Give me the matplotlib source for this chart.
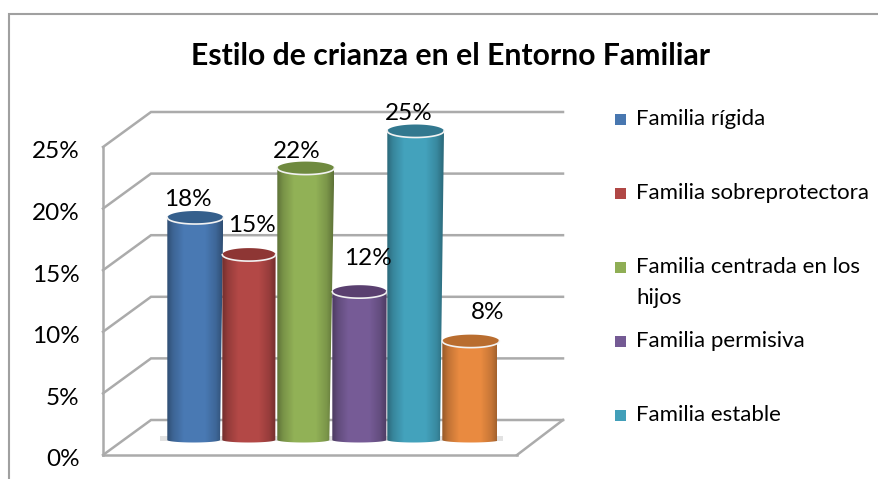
import numpy as np
import matplotlib
matplotlib.use("Agg")
import matplotlib.pyplot as plt
from matplotlib.colors import to_rgb
from matplotlib.patches import PathPatch, Rectangle, Polygon
from matplotlib.path import Path
from matplotlib.transforms import ScaledTranslation

W, H = 879, 479
title = "Estilo de crianza en el Entorno Familiar"
categories = ["Familia rígida", "Familia sobreprotectora", "Familia centrada en los\nhijos",
              "Familia permisiva", "Familia estable"]
values = [18, 15, 22, 12, 25, 8]
yticks = [0, 5, 10, 15, 20, 25]
colors = ["#4877B0", "#B04745", "#8FAE55", "#745A94", "#429FB9", "#E5883F"]
cap_colors = ["#355F8C", "#8E3634", "#6F8A3F", "#5A4070", "#32788F", "#B96D2F"]
# styling: widths in px at foot and top of each cylinder, label offsets in px from bar top centre
w_bot = [52.7, 53, 52, 54, 52.7, 57]
w_top = [56, 53.3, 57, 54.3, 56.7, 57]
lab_dx = [-7, 3, -9, 8, -7, 17]
lab_dy = [-20, -31, -19, -35, -20, -31]

FONT = "Lato"
GRID = "#ABABAB"
plt.rcParams["font.family"] = [FONT, "DejaVu Sans"]

fig = plt.figure(figsize=(W / 100, H / 100), dpi=100, facecolor="white")


def rect(l, t, r, b):
    return [l / W, 1 - b / H, (r - l) / W, (b - t) / H]


# pixel-space layer for chart furniture
bg = fig.add_axes([0, 0, 1, 1], zorder=0)
bg.set_xlim(0, W)
bg.set_ylim(H, 0)
bg.axis("off")
bg.plot([9.5, 9.5, W], [H, 13.5, 13.5], color="#A0A0A0", lw=1.5, solid_joinstyle="miter")

# front wall: real value axis
FX0, FX1, FY0, FY25 = 103, 517, 455, 147
wall = fig.add_axes(rect(FX0, FY25, FX1, FY0), zorder=1)
wall.patch.set_alpha(0)
wall.set_xlim(0, 1)
wall.set_ylim(0, 25)
wall.set_xticks([])
wall.set_yticks(yticks)
wall.set_yticklabels([f"{t}%" for t in yticks], fontsize=17.5, color="black")
wall.tick_params(axis="y", length=0, pad=17)
shift = ScaledTranslation(0, -3 / 100, fig.dpi_scale_trans)
for lab in wall.get_yticklabels():
    lab.set_transform(lab.get_transform() + shift)
for s in ["top", "right"]:
    wall.spines[s].set_visible(False)
for s in ["left", "bottom"]:
    wall.spines[s].set_color(GRID)
    wall.spines[s].set_linewidth(1.8)

# back wall and floor
BX0, BX1, DY = 151, 563, -35
for t in yticks:
    yf = FY0 + (FY25 - FY0) * t / 25
    bg.plot([FX0, BX0, BX1], [yf, yf + DY, yf + DY], color=GRID, lw=1.8, solid_joinstyle="miter")
bg.plot([FX1, BX1], [FY0, FY0 + DY], color=GRID, lw=1.8)
bg.add_patch(Rectangle((160, 436), 343, 5, color="#E2E2E2", lw=0, zorder=1))

# bars
PX0, STEP, PK = 167.3, 55.0, 12.36
bars = fig.add_axes(rect(PX0 - STEP * 0.5, 440 - PK * 27, PX0 + STEP * 6, 440 + PK * 2), zorder=2)
bars.patch.set_alpha(0)
bars.axis("off")
RY_TOP, RY_BOT = 6.5 / PK, 2.5 / PK
t = np.linspace(0, np.pi, 40)
stops_x = [0, 0.1, 0.3, 0.68, 0.88, 1]
stops_v = [0.66, 0.84, 1.02, 1.02, 0.86, 0.66]


def shade(c):
    xs = np.linspace(0, 1, 64)
    f = np.interp(xs, stops_x, stops_v)
    return np.clip(np.outer(f, to_rgb(c)), 0, 1)[None, :, :]


for i, (v, c, cc) in enumerate(zip(values, colors, cap_colors)):
    wb, wt = w_bot[i] / STEP, w_top[i] / STEP
    bx = i + wb / 2 - wb / 2 * np.cos(t)
    by = -RY_BOT * np.sin(t)
    # body outline: left edge down, front of foot, right edge up, back along top
    verts = np.r_[[[i, v]], np.c_[bx, by], [[i + wt, v]], [[i, v]]]
    path = Path(verts)
    im = bars.imshow(shade(c), extent=(i, i + max(wb, wt), -1, v + 1), aspect="auto",
                     interpolation="bilinear", zorder=3 + i)
    im.set_clip_path(PathPatch(path, transform=bars.transData))
    cap_t = np.linspace(0, 2 * np.pi, 80)
    bars.add_patch(Polygon(np.c_[i + wt / 2 + wt / 2 * np.cos(cap_t), v + RY_TOP * np.sin(cap_t)],
                           closed=True, facecolor=cc, edgecolor="none", zorder=3 + i, clip_on=False))
    bars.plot(i + wt / 2 + wt / 2 * np.cos(t), v - RY_TOP * np.sin(t), color="#F2F2F2", lw=1.2,
              zorder=3.5 + i, clip_on=False)
bars.set_xlim(-0.5, 6)
bars.set_ylim(-2, 27)
for i, v in enumerate(values):
    bars.annotate(f"{v}%", (i + w_top[i] / STEP / 2, v), xytext=(lab_dx[i], -lab_dy[i] - 2),
                  textcoords="offset pixels", ha="center", va="center", fontsize=17.5,
                  color="black", zorder=20, annotation_clip=False)

# title
bg.text(451, 56, title, ha="center", va="center", fontsize=21.7, fontweight="bold", color="black")

# legend
over = fig.add_axes([0, 0, 1, 1], zorder=3)
over.set_xlim(0, W)
over.set_ylim(H, 0)
over.axis("off")
LEG_Y0, LEG_STEP = 119, 74
for i, (name, c) in enumerate(zip(categories, colors)):
    y = LEG_Y0 + LEG_STEP * i
    over.add_patch(Rectangle((615, y - 5.5), 11, 11, facecolor=c, edgecolor="none"))
    over.text(636, y - 10, name, ha="left", va="top", fontsize=16, color="black", linespacing=1.68)

fig.savefig("out.png", dpi=100, facecolor="white")
